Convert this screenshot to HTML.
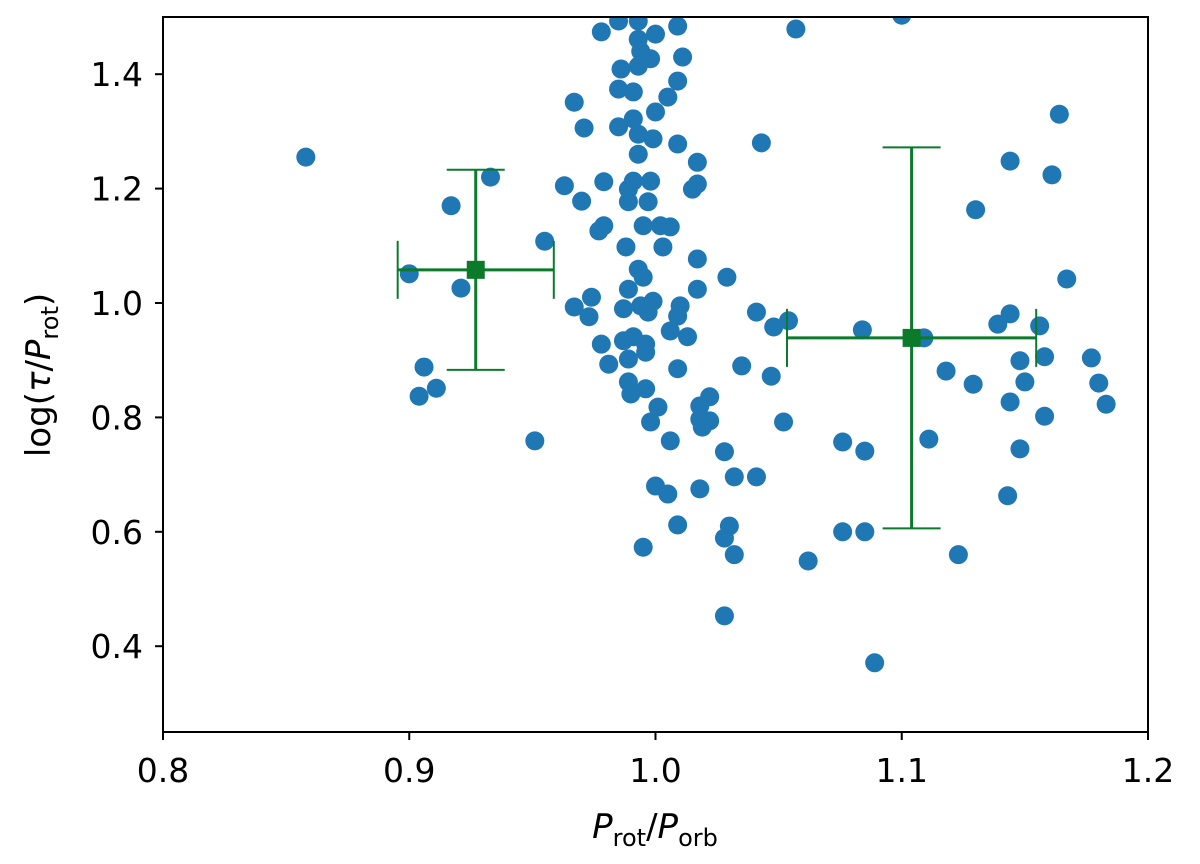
<!DOCTYPE html>
<html><head><meta charset="utf-8"><style>
html,body{margin:0;padding:0;background:#fff;width:1200px;height:864px;overflow:hidden}
svg{font-family:"DejaVu Sans","Liberation Sans",sans-serif}
</style></head><body>
<svg id="chart" width="1200" height="864" viewBox="0 0 1200 864" xmlns="http://www.w3.org/2000/svg"></svg>
<script>
const xTicks=[0.8,0.9,1.0,1.1,1.2];
const yTicks=[0.4,0.6,0.8,1.0,1.2,1.4];
const xTickLabels=["0.8","0.9","1.0","1.1","1.2"];
const yTickLabels=["0.4","0.6","0.8","1.0","1.2","1.4"];
const ptX=[0.858,0.900,0.917,0.933,0.921,0.906,0.904,0.911,0.951,0.955,
0.978,0.985,0.993,1.000,1.009,0.993,0.994,0.998,1.011,0.986,0.993,0.985,0.991,1.009,1.005,0.967,1.000,0.971,0.985,0.991,0.993,0.999,0.993,1.009,1.017,
0.963,0.970,0.979,0.989,0.991,0.998,0.989,0.997,1.015,1.017,0.979,0.977,0.995,1.002,1.006,0.988,1.003,1.017,1.029,0.993,0.995,1.017,0.989,0.974,0.967,0.973,0.987,0.994,0.999,0.997,1.010,1.009,
1.006,1.013,1.041,1.048,1.054,0.978,0.987,0.991,0.996,0.996,0.981,0.989,1.009,1.035,1.047,0.989,0.990,0.996,1.001,0.998,1.018,1.022,1.018,1.022,1.019,1.052,1.006,1.028,1.032,1.041,1.000,1.005,1.018,1.009,1.030,1.028,1.032,0.995,1.028,
1.057,1.100,1.043,1.164,1.144,1.161,1.130,1.167,1.084,1.109,1.144,1.139,1.156,1.118,1.129,1.148,1.158,1.177,1.150,1.180,1.144,1.183,1.158,1.076,1.085,1.111,1.148,1.143,1.076,1.085,1.062,1.123,1.089];
const ptY=[1.255,1.051,1.170,1.220,1.026,0.888,0.837,0.851,0.759,1.108,
1.474,1.493,1.493,1.470,1.484,1.461,1.440,1.427,1.430,1.409,1.414,1.374,1.369,1.388,1.360,1.351,1.334,1.306,1.308,1.322,1.295,1.287,1.260,1.278,1.246,
1.205,1.178,1.212,1.199,1.213,1.213,1.177,1.177,1.199,1.208,1.135,1.126,1.135,1.135,1.133,1.098,1.098,1.077,1.045,1.059,1.045,1.024,1.024,1.010,0.993,0.976,0.990,0.995,1.003,0.984,0.995,0.977,
0.951,0.941,0.984,0.958,0.969,0.928,0.934,0.941,0.928,0.914,0.893,0.902,0.885,0.890,0.872,0.862,0.841,0.850,0.818,0.792,0.820,0.836,0.797,0.794,0.783,0.792,0.759,0.740,0.696,0.696,0.680,0.666,0.675,0.612,0.610,0.589,0.560,0.573,0.453,
1.479,1.503,1.280,1.330,1.248,1.224,1.163,1.042,0.953,0.939,0.981,0.963,0.960,0.881,0.858,0.899,0.906,0.904,0.862,0.860,0.827,0.823,0.802,0.757,0.741,0.762,0.745,0.663,0.600,0.600,0.549,0.560,0.371];
const ebX=[0.927,1.104];
const ebY=[1.058,0.939];
const ebXerr=[0.0317,0.0506];
const ebYerr=[0.175,0.333];

const L=163,R=1148,T=17,B=732;
const xMin=0.8,xMax=1.2,yMin=0.25,yMax=1.5;
const sx=v=>L+(v-xMin)/(xMax-xMin)*(R-L);
const sy=v=>B-(v-yMin)/(yMax-yMin)*(B-T);
const svg=document.getElementById('chart');
const NS='http://www.w3.org/2000/svg';
function mk(tag,attrs,parent){const e=document.createElementNS(NS,tag);for(const k in attrs)e.setAttribute(k,attrs[k]);(parent||svg).appendChild(e);return e;}

const defs=mk('defs',{});
const cp=mk('clipPath',{id:'plotclip'},defs);
mk('rect',{x:L,y:T,width:R-L,height:B-T},cp);

const pts=mk('g',{'clip-path':'url(#plotclip)'});


for(let i=0;i<ptX.length;i++){
  const c=mk('circle',{cx:sx(ptX[i]),cy:sy(ptY[i]),r:9.5,fill:'#1f77b4'},pts);
  
  
}
const G='#0b7a2b';
for(let i=0;i<ebX.length;i++){
  const g=mk('g',{});
  
  
  const cx=sx(ebX[i]),cy=sy(ebY[i]);
  const x0=sx(ebX[i]-ebXerr[i]),x1=sx(ebX[i]+ebXerr[i]);
  const y0=sy(ebY[i]+ebYerr[i]),y1=sy(ebY[i]-ebYerr[i]);
  mk('line',{x1:x0,y1:cy,x2:x1,y2:cy,stroke:G,'stroke-width':3},g);
  mk('line',{x1:cx,y1:y0,x2:cx,y2:y1,stroke:G,'stroke-width':3},g);
  mk('line',{x1:x0,y1:cy-29,x2:x0,y2:cy+29,stroke:G,'stroke-width':2},g);
  mk('line',{x1:x1,y1:cy-29,x2:x1,y2:cy+29,stroke:G,'stroke-width':2},g);
  mk('line',{x1:cx-29,y1:y0,x2:cx+29,y2:y0,stroke:G,'stroke-width':2},g);
  mk('line',{x1:cx-29,y1:y1,x2:cx+29,y2:y1,stroke:G,'stroke-width':2},g);
  mk('rect',{x:cx-9,y:cy-9,width:18,height:18,fill:G},g);
}
const frame=mk('rect',{x:L,y:T,width:R-L,height:B-T,fill:'none',stroke:'#000','stroke-width':2});



const xa=mk('g',{});


for(let i=0;i<xTicks.length;i++){
  const x=sx(xTicks[i]);
  mk('line',{x1:x,y1:B,x2:x,y2:B+8,stroke:'#000','stroke-width':2},xa);
  const t=mk('text',{x:x,y:B+50,'text-anchor':'middle','font-size':33,fill:'#000'},xa);
  t.textContent=xTickLabels[i];
  
  
}
const ya=mk('g',{});


for(let i=0;i<yTicks.length;i++){
  const y=sy(yTicks[i]);
  mk('line',{x1:L-8,y1:y,x2:L,y2:y,stroke:'#000','stroke-width':2},ya);
  const t=mk('text',{x:L-20,y:y+12,'text-anchor':'end','font-size':33,fill:'#000'},ya);
  t.textContent=yTickLabels[i];
  
  
}
const xt=mk('text',{x:655,y:838,'text-anchor':'middle','font-size':34,fill:'#000'});


xt.innerHTML='<tspan font-style="italic">P</tspan><tspan font-size="24" dy="8">rot</tspan><tspan dy="-8">/</tspan><tspan font-style="italic">P</tspan><tspan font-size="24" dy="8">orb</tspan>';
const yt=mk('text',{x:0,y:0,'text-anchor':'middle','font-size':34,fill:'#000',transform:'translate(50,375) rotate(-90)'});


yt.innerHTML='log(<tspan font-style="italic">τ</tspan>/<tspan font-style="italic">P</tspan><tspan font-size="24" dy="8">rot</tspan><tspan dy="-8">)</tspan>';
</script>
</body></html>
